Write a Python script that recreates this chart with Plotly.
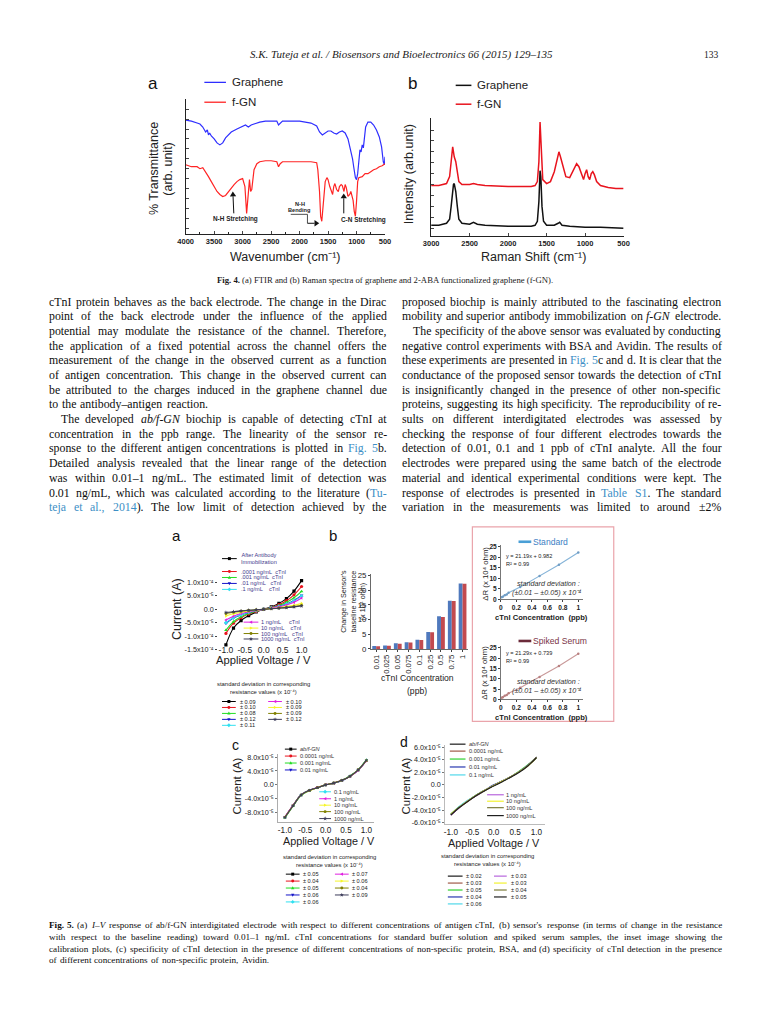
import math
import re
import plotly.graph_objects as go

W, H = 768, 1024
SANS = "Liberation Sans"
SERIF = "Liberation Serif"
LINK = "#3d8fc6"

# ================= DATA =================
# Fig. 4a  FTIR  (transmittance, arb. unit)
ftir_gr_wn = [4000, 3900, 3800, 3750, 3700, 3650, 3620, 3600, 3580, 3550, 3500, 3450, 3400, 3350, 3300,
              3200, 3100, 3000, 2950, 2900, 2850, 2800, 2700, 2600, 2500, 2400, 2370, 2340, 2300, 2200,
              2100, 2000, 1900, 1800, 1700, 1650, 1600, 1550, 1500, 1450, 1400, 1350, 1300, 1250, 1200,
              1150, 1100, 1070, 1050, 1020, 1000, 980, 960, 940, 920, 900, 880, 860, 840, 800,
              750, 700, 650, 600, 560, 530, 510, 500]
ftir_gr_t = [115, 114, 112, 111, 108, 103, 105, 100, 102, 99, 96, 92, 90, 92, 97,
             103, 106, 109, 110, 108, 110, 111, 113, 114, 114, 114, 110, 112, 114, 114,
             114, 114, 113, 112, 109, 103, 100, 102, 104, 104, 102, 101, 103, 104, 102,
             96, 85, 76, 68, 57, 55, 61, 73, 85, 83, 90, 87, 97, 108, 113,
             113, 110, 105, 98, 88, 73, 70, 78]
ftir_fgn_wn = [4000, 3900, 3800, 3750, 3700, 3650, 3600, 3550, 3500, 3450, 3400, 3350, 3300, 3250, 3200,
               3150, 3100, 3050, 3000, 2960, 2930, 2900, 2880, 2860, 2840, 2800, 2750, 2700, 2600, 2500,
               2400, 2370, 2340, 2300, 2200, 2100, 2000, 1900, 1800, 1700, 1680, 1650, 1630, 1610, 1590,
               1570, 1550, 1520, 1500, 1470, 1440, 1420, 1400, 1380, 1350, 1320, 1300, 1270, 1250, 1220,
               1200, 1180, 1150, 1120, 1100, 1080, 1060, 1040, 1020, 1000, 980, 960, 900, 850, 800,
               750, 700, 650, 600, 550, 500]
ftir_fgn_t = [70, 68, 68, 66, 67, 63, 58, 53, 48, 43, 40, 38, 39, 43, 47,
              50, 53, 55, 56, 48, 21, 43, 55, 43, 45, 65, 71, 73, 74, 74,
              73, 68, 71, 73, 73, 73, 73, 73, 73, 72, 65, 43, 18, 13, 25,
              43, 53, 57, 55, 48, 43, 40, 48, 51, 45, 43, 48, 50, 49, 43,
              50, 47, 38, 40, 43, 38, 34, 23, 18, 33, 53, 57, 58, 61, 61,
              63, 65, 66, 68, 69, 71]
ftir_ticks = [4000, 3500, 3000, 2500, 2000, 1500, 1000, 500]

# Fig. 4b  Raman  (intensity, arb. unit)
raman_gr_shift = [3000, 2900, 2800, 2760, 2740, 2720, 2710, 2700, 2680, 2660, 2640, 2600, 2500, 2450, 2400,
                  2300, 2000, 1700, 1650, 1620, 1600, 1585, 1575, 1560, 1540, 1500, 1400, 1350, 1330, 1300,
                  1200, 1000, 800, 500]
raman_gr_int = [11, 11, 13, 17, 30, 50, 52, 53, 45, 30, 17, 13, 12, 14, 12,
                11, 10, 10, 11, 15, 35, 66, 60, 30, 15, 11, 11, 13, 14, 11,
                10, 9, 9, 8]
raman_fgn_shift = [3000, 2900, 2800, 2760, 2740, 2720, 2700, 2680, 2660, 2640, 2600, 2500, 2450, 2400, 2300,
                   2000, 1700, 1650, 1620, 1600, 1585, 1570, 1550, 1500, 1450, 1400, 1360, 1340, 1320, 1280,
                   1250, 1200, 1150, 1110, 1080, 1040, 1020, 1000, 980, 960, 940, 920, 900, 880, 850,
                   800, 700, 600, 500]
raman_fgn_int = [51, 51, 53, 60, 75, 90, 80, 75, 65, 55, 52, 52, 53, 52, 51,
                 50, 50, 51, 55, 75, 115, 85, 57, 53, 55, 65, 80, 85, 80, 67,
                 60, 59, 67, 73, 70, 60, 57, 63, 67, 60, 57, 63, 65, 62, 55,
                 51, 49, 48, 48]
raman_ticks = [3000, 2500, 2000, 1500, 1000, 500]

# Fig. 5 I-V data (A)
voltage = [-1.0, -0.8, -0.6, -0.4, -0.2, 0.0, 0.2, 0.4, 0.6, 0.8, 1.0]
iv_a_after = [-13.3e-5, -7.0e-5, -4.2e-5, -2.4e-5, -1.0e-5, 0.0, 0.9e-5, 2.2e-5, 4.0e-5, 6.8e-5, 10.7e-5]
iv_a_00001 = [-9.0e-5, -5.2e-5, -3.2e-5, -1.8e-5, -0.8e-5, 0.0, 0.7e-5, 1.7e-5, 3.2e-5, 5.4e-5, 8.5e-5]
iv_a_0001 = [-7.8e-5, -4.6e-5, -2.8e-5, -1.6e-5, -0.7e-5, 0.0, 0.6e-5, 1.4e-5, 2.6e-5, 4.3e-5, 6.7e-5]
iv_a_001 = [-5.3e-5, -3.3e-5, -2.1e-5, -1.2e-5, -0.5e-5, 0.0, 0.5e-5, 1.1e-5, 2.0e-5, 3.3e-5, 5.2e-5]
iv_a_01 = [-5.0e-5, -3.1e-5, -2.0e-5, -1.1e-5, -0.5e-5, 0.0, 0.5e-5, 1.0e-5, 1.9e-5, 3.1e-5, 4.9e-5]
iv_a_1 = [-4.0e-5, -2.6e-5, -1.6e-5, -0.9e-5, -0.4e-5, 0.0, 0.4e-5, 0.9e-5, 1.6e-5, 2.6e-5, 4.2e-5]
iv_a_10 = [-2.5e-5, -1.7e-5, -1.1e-5, -0.6e-5, -0.3e-5, 0.0, 0.3e-5, 0.6e-5, 1.0e-5, 1.5e-5, 2.2e-5]
iv_a_100 = [-1.6e-5, -1.1e-5, -0.7e-5, -0.4e-5, -0.2e-5, 0.0, 0.2e-5, 0.4e-5, 0.7e-5, 1.0e-5, 1.5e-5]
iv_a_1000 = [-1.2e-5, -0.9e-5, -0.6e-5, -0.4e-5, -0.2e-5, 0.0, 0.2e-5, 0.4e-5, 0.6e-5, 0.9e-5, 1.2e-5]

iv_c_abfgn = [-9.4e-5, -6.0e-5, -2.9e-5, -1.6e-5, -0.8e-5, 0.0, 0.5e-5, 1.3e-5, 2.5e-5, 4.3e-5, 7.1e-5]
iv_c_00001 = [-9.3e-5, -5.9e-5, -2.9e-5, -1.6e-5, -0.8e-5, 0.0, 0.5e-5, 1.3e-5, 2.5e-5, 4.3e-5, 7.0e-5]
iv_c_0001 = [-9.5e-5, -6.1e-5, -3.0e-5, -1.7e-5, -0.8e-5, 0.0, 0.5e-5, 1.3e-5, 2.6e-5, 4.4e-5, 7.2e-5]
iv_c_001 = [-9.3e-5, -5.9e-5, -2.8e-5, -1.6e-5, -0.8e-5, 0.0, 0.5e-5, 1.2e-5, 2.5e-5, 4.2e-5, 7.0e-5]
iv_c_01 = [-9.4e-5, -6.0e-5, -2.9e-5, -1.6e-5, -0.8e-5, 0.0, 0.5e-5, 1.3e-5, 2.5e-5, 4.3e-5, 7.1e-5]
iv_c_1 = [-9.2e-5, -5.9e-5, -2.9e-5, -1.6e-5, -0.7e-5, 0.0, 0.5e-5, 1.3e-5, 2.4e-5, 4.2e-5, 6.9e-5]
iv_c_10 = [-9.4e-5, -6.0e-5, -2.9e-5, -1.7e-5, -0.8e-5, 0.0, 0.5e-5, 1.3e-5, 2.5e-5, 4.3e-5, 7.1e-5]
iv_c_100 = [-9.3e-5, -6.0e-5, -2.9e-5, -1.6e-5, -0.8e-5, 0.0, 0.6e-5, 1.3e-5, 2.5e-5, 4.3e-5, 7.0e-5]
iv_c_1000 = [-9.4e-5, -6.0e-5, -2.9e-5, -1.6e-5, -0.8e-5, 0.0, 0.5e-5, 1.3e-5, 2.5e-5, 4.3e-5, 7.1e-5]

iv_d_abfgn = [-4.7e-5, -3.5e-5, -2.5e-5, -1.6e-5, -0.8e-5, -0.1e-5, 0.6e-5, 1.3e-5, 2.1e-5, 3.1e-5, 4.4e-5]
iv_d_00001 = [-4.8e-5, -3.6e-5, -2.6e-5, -1.7e-5, -0.9e-5, -0.1e-5, 0.6e-5, 1.3e-5, 2.1e-5, 3.1e-5, 4.3e-5]
iv_d_0001 = [-4.6e-5, -3.5e-5, -2.5e-5, -1.6e-5, -0.8e-5, -0.1e-5, 0.6e-5, 1.3e-5, 2.2e-5, 3.2e-5, 4.4e-5]
iv_d_001 = [-4.7e-5, -3.5e-5, -2.5e-5, -1.6e-5, -0.8e-5, 0.0, 0.6e-5, 1.3e-5, 2.1e-5, 3.1e-5, 4.4e-5]
iv_d_01 = [-4.7e-5, -3.4e-5, -2.4e-5, -1.6e-5, -0.8e-5, -0.1e-5, 0.6e-5, 1.3e-5, 2.1e-5, 3.1e-5, 4.3e-5]
iv_d_1 = [-4.8e-5, -3.6e-5, -2.5e-5, -1.7e-5, -0.8e-5, -0.1e-5, 0.6e-5, 1.3e-5, 2.1e-5, 3.1e-5, 4.4e-5]
iv_d_10 = [-4.6e-5, -3.5e-5, -2.5e-5, -1.6e-5, -0.8e-5, -0.1e-5, 0.6e-5, 1.3e-5, 2.1e-5, 3.0e-5, 4.3e-5]
iv_d_100 = [-4.7e-5, -3.5e-5, -2.6e-5, -1.6e-5, -0.9e-5, -0.1e-5, 0.5e-5, 1.3e-5, 2.1e-5, 3.1e-5, 4.4e-5]
iv_d_1000 = [-4.8e-5, -3.6e-5, -2.6e-5, -1.7e-5, -0.9e-5, -0.2e-5, 0.5e-5, 1.2e-5, 2.0e-5, 3.0e-5, 4.3e-5]

# Fig. 5b sensor response (x 10^4 ohm)
conc_labels = ["0.01", "0.025", "0.05", "0.075", "0.1", "0.25", "0.5", "0.75", "1"]
conc_ppb = [0.01, 0.025, 0.05, 0.075, 0.1, 0.25, 0.5, 0.75, 1.0]
dR_standard = [1.0, 1.2, 1.9, 2.3, 3.1, 5.8, 11.1, 16.4, 22.3]
dR_serum = [0.9, 1.1, 1.8, 2.2, 3.0, 5.7, 10.9, 16.3, 22.2]

# tick labels
iv_ticks_x = ["-1.0", "-0.5", "0.0", "0.5", "1.0"]
ticks_a_y = ["-1.5x10⁻⁴", "-1.0x10⁻⁴", "-5.0x10⁻⁵", "0.0", "5.0x10⁻⁵", "1.0x10⁻⁴"]
ticks_c_y = ["-8.0x10⁻⁵", "-4.0x10⁻⁵", "0.0", "4.0x10⁻⁵", "8.0x10⁻⁵"]
ticks_d_y = ["-6.0x10⁻⁵", "-4.0x10⁻⁵", "-2.0x10⁻⁵", "0.0", "2.0x10⁻⁵", "4.0x10⁻⁵", "6.0x10⁻⁵"]
ticks_inset_x = ["0", "0.2", "0.4", "0.6", "0.8", "1"]

# legend labels / standard deviations
names_a = ["After Antibody<br>Immobilization", ".0001 ng/mL  cTnI", ".001 ng/mL  cTnI", ".01 ng/mL   cTnI",
           ".1 ng/mL    cTnI", "1 ng/mL     cTnI", "10 ng/mL    cTnI", "100 ng/mL   cTnI", "1000 ng/mL  cTnI"]
names_cd = ["<i>ab/f-GN</i>", "0.0001 ng/mL", "0.001 ng/mL", "0.01 ng/mL", "0.1 ng/mL",
            "1 ng/mL", "10 ng/mL", "100 ng/mL", "1000 ng/mL"]
sd_a = ["± 0.09", "± 0.10", "± 0.08", "± 0.12", "± 0.11", "± 0.10", "± 0.09", "± 0.09", "± 0.12"]
sd_c = ["± 0.05", "± 0.04", "± 0.05", "± 0.06", "± 0.06", "± 0.07", "± 0.06", "± 0.04", "± 0.09"]
sd_d = ["± 0.02", "± 0.03", "± 0.05", "± 0.04", "± 0.06", "± 0.03", "± 0.03", "± 0.04", "± 0.05"]

# body text
LEFT_LINES = [
    "cTnI protein behaves as the back electrode. The change in the Dirac",
    "point of the back electrode under the influence of the applied",
    "potential may modulate the resistance of the channel. Therefore,",
    "the application of a fixed potential across the channel offers the",
    "measurement of the change in the observed current as a function",
    "of antigen concentration. This change in the observed current can",
    "be attributed to the charges induced in the graphene channel due",
    "to the antibody–antigen reaction.$",
    "\tThe developed *ab/f-GN* biochip is capable of detecting cTnI at",
    "concentration in the ppb range. The linearity of the sensor re-",
    "sponse to the different antigen concentrations is plotted in #Fig.# #5#b.",
    "Detailed analysis revealed that the linear range of the detection",
    "was within 0.01–1 ng/mL. The estimated limit of detection was",
    "0.01 ng/mL, which was calculated according to the literature (#Tu-#",
    "#teja# #et# #al.,# #2014#). The low limit of detection achieved by the",
]
RIGHT_LINES = [
    "proposed biochip is mainly attributed to the fascinating electron",
    "mobility and superior antibody immobilization on *f-GN* electrode.$",
    "\tThe specificity of the above sensor was evaluated by conducting",
    "negative control experiments with BSA and Avidin. The results of",
    "these experiments are presented in #Fig.# #5#c and d. It is clear that the",
    "conductance of the proposed sensor towards the detection of cTnI",
    "is insignificantly changed in the presence of other non-specific",
    "proteins, suggesting its high specificity. The reproducibility of re-",
    "sults on different interdigitated electrodes was assessed by",
    "checking the response of four different electrodes towards the",
    "detection of 0.01, 0.1 and 1 ppb of cTnI analyte. All the four",
    "electrodes were prepared using the same batch of the electrode",
    "material and identical experimental conditions were kept. The",
    "response of electrodes is presented in #Table# #S1#. The standard",
    "variation in the measurements was limited to around ±2%",
]
CAPTION5 = [
    "!Fig.! !5.! (a) *I–V* response of ab/f-GN interdigitated electrode with respect to different concentrations of antigen cTnI, (b) sensor's response (in terms of change in the resistance",
    "with respect to the baseline reading) toward 0.01–1 ng/mL cTnI concentrations for standard buffer solution and spiked serum samples, the inset image showing the",
    "calibration plots, (c) specificity of cTnI detection in the presence of different concentrations of non-specific protein, BSA, and (d) specificity of cTnI detection in the presence",
    "of different concentrations of non-specific protein, Avidin.$",
]
HEADER = "S.K. Tuteja et al. / Biosensors and Bioelectronics 66 (2015) 129–135"
CAPTION4 = "(a) FTIR and (b) Raman spectra of graphene and 2-ABA functionalized graphene (f-GN)."

# ================= HELPERS =================
ann = []
shapes = []


def X(x):
    return x / W


def Y(y):
    return 1 - y / H


def text(x, y, s, size, color="#111", family=SANS, xa="center", ya="middle", angle=0):
    ann.append(dict(x=X(x), y=Y(y), xref="paper", yref="paper", text=s, showarrow=False,
                    xanchor=xa, yanchor=ya, textangle=angle, borderpad=0, borderwidth=0,
                    font=dict(family=family, size=size, color=color)))


def seg(x0, y0, x1, y1, color, width=1.0):
    shapes.append(dict(type="line", xref="paper", yref="paper", x0=X(x0), y0=Y(y0), x1=X(x1), y1=Y(y1),
                       line=dict(color=color, width=width)))


def poly(pts, color):
    path = "M " + " L ".join(f"{X(px):.5f},{Y(py):.5f}" for px, py in pts) + " Z"
    shapes.append(dict(type="path", xref="paper", yref="paper", path=path, fillcolor=color,
                       line=dict(width=0)))


def arrow(x0, y0, x1, y1, color="#111", head=3.2):
    dx, dy = x1 - x0, y1 - y0
    n = math.hypot(dx, dy)
    ux, uy = dx / n, dy / n
    bx, by = x1 - ux * head * 1.5, y1 - uy * head * 1.5
    seg(x0, y0, bx, by, color, 1.0)
    poly([(x1, y1), (bx - uy * head, by + ux * head), (bx + uy * head, by - ux * head)], color)


def glyph(cx, cy, sym, s, color):
    if sym == "circle" or sym == "hexagon":
        shapes.append(dict(type="circle", xref="paper", yref="paper", x0=X(cx - s), x1=X(cx + s),
                           y0=Y(cy + s), y1=Y(cy - s), fillcolor=color, line=dict(width=0)))
        return
    if sym == "square":
        pts = [(-s, -s), (s, -s), (s, s), (-s, s)]
    elif sym == "triangle-up":
        pts = [(0, -1.2 * s), (1.1 * s, 0.8 * s), (-1.1 * s, 0.8 * s)]
    elif sym == "triangle-down":
        pts = [(0, 1.2 * s), (1.1 * s, -0.8 * s), (-1.1 * s, -0.8 * s)]
    elif sym == "diamond":
        pts = [(0, -1.3 * s), (1.3 * s, 0), (0, 1.3 * s), (-1.3 * s, 0)]
    elif sym == "triangle-left":
        pts = [(-1.2 * s, 0), (0.8 * s, -1.1 * s), (0.8 * s, 1.1 * s)]
    elif sym == "triangle-right":
        pts = [(1.2 * s, 0), (-0.8 * s, -1.1 * s), (-0.8 * s, 1.1 * s)]
    else:  # star
        pts = []
        for k in range(10):
            r = 1.5 * s if k % 2 == 0 else 0.6 * s
            a = -math.pi / 2 + k * math.pi / 5
            pts.append((r * math.cos(a), r * math.sin(a)))
    poly([(cx + dx, cy + dy) for dx, dy in pts], color)


def legend_item(x0, x1, y, color, sym=None, lw=1.0, ms=1.5):
    seg(x0, y, x1, y, color, lw)
    if sym:
        glyph((x0 + x1) / 2, y, sym, ms, color)


TW = {' ': 250, '!': 333, '%': 833, "'": 333, '(': 333, ')': 333, '+': 564, ',': 250, '-': 333,
      '.': 250, '/': 278, ':': 278, ';': 278, '=': 564, '–': 500, '±': 564}
for _c in "0123456789":
    TW[_c] = 500
TW.update(dict(A=722, B=667, C=667, D=722, E=611, F=556, G=722, H=722, I=333, J=389, K=722, L=611,
               M=889, N=722, O=722, P=556, Q=722, R=667, S=556, T=611, U=722, V=722, W=944, X=722,
               Y=722, Z=611))
TW.update(dict(a=444, b=500, c=444, d=500, e=444, f=333, g=500, h=500, i=278, j=278, k=500, l=278,
               m=778, n=500, o=500, p=500, q=500, r=333, s=389, t=278, u=500, v=500, w=722, x=500,
               y=500, z=444))
EMF = 1.035  # rendering slack (hinting) on top of the Times metrics


def plain(w):
    return re.sub(r"[*#!]", "", w)


def em(s):
    return EMF * sum(TW.get(ch, 500) for ch in s) / 1000.0


def markup(w):
    w = re.sub(r"#(.+?)#", r'<span style="color:' + LINK + r'">\1</span>', w)
    w = re.sub(r"\*(.+?)\*", r"<i>\1</i>", w)
    w = re.sub(r"!(.+?)!", r"<b>\1</b>", w)
    return w


def fit_size(line, width, min_gap=0.24, indent=12):
    words = line.strip("\t$").split(" ")
    avail = width - (indent if line.startswith("\t") else 0)
    return avail / (sum(em(plain(w)) for w in words) + min_gap * (len(words) - 1))


def block(lines, x0, x1, y0, dy, size, color="#0d0d0d", indent=12):
    for k, raw in enumerate(lines):
        just = not raw.endswith("$")
        ind = indent if raw.startswith("\t") else 0
        words = raw.strip("\t$").split(" ")
        widths = [em(plain(w)) * size for w in words]
        left = x0 + ind
        if just and len(words) > 1:
            gap = (x1 - left - sum(widths)) / (len(words) - 1)
        else:
            gap = 0.28 * size
        x = left
        y = y0 + k * dy
        for w, wd in zip(words, widths):
            text(x, y, markup(w), size, color=color, family=SERIF, xa="left")
            x += wd + gap


# ================= FIGURE =================
fig = go.Figure()

# ---- Fig. 4a FTIR ----
fig.add_trace(go.Scatter(x=ftir_gr_wn, y=ftir_gr_t, mode="lines", line=dict(color="#2e2eff", width=1.2),
                         xaxis="x", yaxis="y"))
fig.add_trace(go.Scatter(x=ftir_fgn_wn, y=ftir_fgn_t, mode="lines", line=dict(color="#ff2424", width=1.2),
                         xaxis="x", yaxis="y"))
# ---- Fig. 4b Raman ----
fig.add_trace(go.Scatter(x=raman_gr_shift, y=raman_gr_int, mode="lines", line=dict(color="#111111", width=1.5),
                         xaxis="x2", yaxis="y2"))
fig.add_trace(go.Scatter(x=raman_fgn_shift, y=raman_fgn_int, mode="lines", line=dict(color="#e8141e", width=1.5),
                         xaxis="x2", yaxis="y2"))

colors_a = ["#000000", "#e8141e", "#22dd22", "#1414c8", "#30e0f0", "#e020e0", "#f5f52a", "#808000", "#3c3c5a"]
colors_d = ["#1a1a1a", "#a05a48", "#30d030", "#2838b0", "#50d8ea", "#b866dd", "#f2f230", "#7c7c3c", "#202020"]
symbols = ["square", "circle", "triangle-up", "triangle-down", "diamond", "triangle-left",
           "triangle-right", "hexagon", "star"]

series_a = [iv_a_after, iv_a_00001, iv_a_0001, iv_a_001, iv_a_01, iv_a_1, iv_a_10, iv_a_100, iv_a_1000]
series_c = [iv_c_abfgn, iv_c_00001, iv_c_0001, iv_c_001, iv_c_01, iv_c_1, iv_c_10, iv_c_100, iv_c_1000]
series_d = [iv_d_abfgn, iv_d_00001, iv_d_0001, iv_d_001, iv_d_01, iv_d_1, iv_d_10, iv_d_100, iv_d_1000]

for s, c, m in zip(series_a, colors_a, symbols):
    fig.add_trace(go.Scatter(x=voltage, y=s, mode="lines+markers", line=dict(color=c, width=1.1, shape="spline"),
                             marker=dict(symbol=m, size=3.2, color=c), xaxis="x3", yaxis="y3"))
for s, c, m in zip(series_c, colors_a, symbols):
    fig.add_trace(go.Scatter(x=voltage, y=s, mode="lines+markers", line=dict(color=c, width=1.1, shape="spline"),
                             marker=dict(symbol=m, size=2.6, color=c), xaxis="x7", yaxis="y7"))
for s, c in zip(series_d, colors_d):
    fig.add_trace(go.Scatter(x=voltage, y=s, mode="lines", line=dict(color=c, width=1.1, shape="spline"),
                             xaxis="x8", yaxis="y8"))

# ---- Fig. 5b bars ----
fig.add_trace(go.Bar(x=conc_labels, y=dR_standard, marker=dict(color="#4f79bd", line=dict(width=0)),
                     xaxis="x4", yaxis="y4"))
fig.add_trace(go.Bar(x=conc_labels, y=dR_serum, marker=dict(color="#c24a4f", line=dict(width=0)),
                     xaxis="x4", yaxis="y4"))
# ---- insets ----
fig.add_trace(go.Scatter(x=conc_ppb, y=dR_standard, mode="lines+markers", line=dict(color="#86b4d8", width=1.1),
                         marker=dict(size=2.5, color="#6f9cc4"), xaxis="x5", yaxis="y5"))
fig.add_trace(go.Scatter(x=conc_ppb, y=dR_serum, mode="lines+markers", line=dict(color="#c99a9a", width=1.1),
                         marker=dict(size=2.5, color="#b88080"), xaxis="x6", yaxis="y6"))


# ================= AXES =================
def ax(**kw):
    base = dict(showgrid=False, zeroline=False, showline=False, ticks="", fixedrange=True)
    base.update(kw)
    return base


tick4 = dict(family=SANS, size=7.5, color="#222", weight="bold")
tick5 = dict(family=SANS, size=7.2, color="#222")
tick_in = dict(family=SANS, size=6.6, color="#222", weight="bold")

layout_axes = dict(
    xaxis=ax(domain=[X(181), X(384)], range=[4000, 500], anchor="y", showline=True, linecolor="#222",
             linewidth=1.1, ticks="inside", ticklen=3, tickvals=ftir_ticks, tickfont=tick4,
             minor=dict(ticks="inside", ticklen=2, dtick=250, tick0=0, tickcolor="#222")),
    yaxis=ax(domain=[Y(233), Y(97)], range=[0, 136], anchor="x", showline=True, linecolor="#222",
             linewidth=1.1, ticks="inside", ticklen=3, dtick=10, tick0=6, showticklabels=False),
    xaxis2=ax(domain=[X(431), X(627)], range=[3000, 500], anchor="y2", showline=True, linecolor="#222",
              linewidth=1.1, ticks="inside", ticklen=3, tickvals=raman_ticks, tickfont=tick4),
    yaxis2=ax(domain=[Y(235), Y(116)], range=[0, 119], anchor="x2", showline=True, linecolor="#222",
              linewidth=1.1, ticks="inside", ticklen=3, dtick=11, tick0=8, showticklabels=False),
    xaxis3=ax(domain=[X(216.2), X(304.8)], range=[-1.15, 1.15], anchor="free", position=Y(646),
              tickvals=[-1, -0.5, 0, 0.5, 1], ticktext=iv_ticks_x,
              tickfont=dict(family=SANS, size=8.5, color="#222")),
    yaxis3=ax(domain=[Y(652.9), Y(571.9)], range=[-1.55e-4, 1.45e-4], anchor="free", position=X(213),
              ticks="outside", ticklen=2, tickcolor="#444",
              tickvals=[-1.5e-4, -1e-4, -5e-5, 0, 5e-5, 1e-4], ticktext=ticks_a_y, tickfont=tick5),
    xaxis4=ax(domain=[X(369.5), X(468.5)], type="category", anchor="y4", showline=True, linecolor="#444",
              linewidth=0.8, ticks="outside", ticklen=2, tickangle=-90,
              tickfont=dict(family=SANS, size=7.6, color="#222")),
    yaxis4=ax(domain=[Y(651), Y(575)], range=[0, 25.7], anchor="x4", showline=True, linecolor="#444",
              linewidth=0.8, ticks="outside", ticklen=2, tickvals=[0, 5, 10, 15, 20, 25],
              tickfont=dict(family=SANS, size=7.8, color="#222")),
    xaxis5=ax(domain=[X(502), X(586)], range=[0, 1.065], anchor="y5", showline=True, linecolor="#555",
              linewidth=0.8, ticks="outside", ticklen=2, tickvals=[0, 0.2, 0.4, 0.6, 0.8, 1.0],
              ticktext=ticks_inset_x, tickfont=tick_in),
    yaxis5=ax(domain=[Y(601), Y(545.9)], range=[0, 26], anchor="x5", showline=True, linecolor="#555",
              linewidth=0.8, ticks="outside", ticklen=2, tickvals=[0, 5, 10, 15, 20, 25], tickfont=tick_in),
    xaxis6=ax(domain=[X(502), X(586)], range=[0, 1.065], anchor="y6", showline=True, linecolor="#555",
              linewidth=0.8, ticks="outside", ticklen=2, tickvals=[0, 0.2, 0.4, 0.6, 0.8, 1.0],
              ticktext=ticks_inset_x, tickfont=tick_in),
    yaxis6=ax(domain=[Y(702), Y(648)], range=[0, 26], anchor="x6", showline=True, linecolor="#555",
              linewidth=0.8, ticks="outside", ticklen=2, tickvals=[0, 5, 10, 15, 20, 25], tickfont=tick_in),
    xaxis7=ax(domain=[X(275), X(373.3)], range=[-1.17, 1.2], anchor="y7", showline=True, linecolor="#999",
              linewidth=0.8, tickvals=[-1, -0.5, 0, 0.5, 1], ticktext=iv_ticks_x,
              tickfont=dict(family=SANS, size=8.2, color="#222")),
    yaxis7=ax(domain=[Y(825.5), Y(756.5)], range=[-1.07e-4, 0.9e-4], anchor="x7", showline=True,
              linecolor="#999", linewidth=0.8, ticks="outside", ticklen=2, tickcolor="#777",
              tickvals=[-8e-5, -4e-5, 0, 4e-5, 8e-5], ticktext=ticks_c_y, tickfont=tick5),
    xaxis8=ax(domain=[X(445), X(547)], range=[-1.14, 1.2], anchor="y8", showline=True, linecolor="#aaa",
              linewidth=0.8, tickvals=[-1, -0.5, 0, 0.5, 1], ticktext=iv_ticks_x,
              tickfont=dict(family=SANS, size=8.2, color="#222")),
    yaxis8=ax(domain=[Y(827.4), Y(748)], range=[-6.2e-5, 6.3e-5], anchor="x8", showline=True,
              linecolor="#aaa", linewidth=0.8, ticks="outside", ticklen=2, tickcolor="#777",
              tickvals=[-6e-5, -4e-5, -2e-5, 0, 2e-5, 4e-5, 6e-5], ticktext=ticks_d_y, tickfont=tick5),
)

# ================= TEXT & DECORATION =================
SMALL = 5.6
# header (italic Times runs ~5% narrower than roman)
hsize = 307 / (0.95 * em(HEADER))
text(401, 52, "<i>" + HEADER + "</i>", min(hsize, 11), family=SERIF, color="#222")
text(724, 52, "133", 9.5, family=SERIF, color="#222", xa="right")

# Fig 4a
text(148, 81, "a", 17)
legend_item(200, 222, 80, "#2e2eff", lw=1.3)
text(228, 80, "Graphene", 11.5, xa="left", color="#222")
legend_item(200, 222, 100, "#ff2424", lw=1.3)
text(228, 100, "f-GN", 11.5, xa="left", color="#222")
text(148, 167, "% Transmittance", 12.5, angle=-90, color="#222")
text(163, 167, "(arb. unit)", 12.5, angle=-90, color="#222")
text(283, 256, "Wavenumber (cm⁻¹)", 12.5, color="#222")
text(232, 218, "<b>N-H Stretching</b>", 6.4, color="#222")
arrow(230, 212, 229, 190)
text(297, 203, "<b>N-H</b>", SMALL, color="#222")
text(297, 208.5, "<b>Bending</b>", SMALL, color="#222")
seg(288, 213, 305, 213, "#222", 0.8)
seg(305, 213, 305, 222, "#222", 0.8)
arrow(305, 222, 317, 222)
text(362, 219, "<b>C-N Stretching</b>", 6.4, color="#222")
arrow(342, 212, 342, 192)

# Fig 4b
text(412, 81, "b", 17)
legend_item(456, 472, 83, "#111111", lw=1.5)
text(478, 83, "Graphene", 11.5, xa="left", color="#222")
legend_item(456, 472, 102, "#e8141e", lw=1.5)
text(478, 102, "f-GN", 11.5, xa="left", color="#222")
text(408, 173, "Intensity (arb.unit)", 12.5, angle=-90, color="#222")
text(535, 256, "Raman Shift (cm⁻¹)", 12.5, color="#222")

# Fig 4 caption
c4size = 338 / (em("Fig. 4. ") + em(CAPTION4))
text(384, 279, "<b>Fig. 4.</b> " + CAPTION4, min(c4size * 1.03, 9.8), family=SERIF, color="#1a1a1a")

# body text (justified columns)
bsize = min(12.6,
            min(fit_size(l, 344) for l in LEFT_LINES if not l.endswith("$")),
            min(fit_size(l, 326) for l in RIGHT_LINES if not l.endswith("$")))
block(LEFT_LINES, 42, 386, 301, 14.8, bsize)
block(RIGHT_LINES, 401, 727, 301, 14.8, bsize)

# Fig 5 panel labels
text(172, 537, "a", 15)
text(331, 537, "b", 15)
text(232, 748, "c", 14)
text(403, 745, "d", 14)

# panel a
LEGC = "#3f3a8c"
NB = "\u00a0"
legend_item(218, 233, 560, colors_a[0], symbols[0])
text(237, 559.5, names_a[0], SMALL, xa="left", color=LEGC)
for k, yy in zip(range(1, 5), [573, 579, 585, 591]):
    legend_item(218, 233, yy, colors_a[k], symbols[k])
    text(237, yy, names_a[k].replace(" ", NB), SMALL, xa="left", color=LEGC)
for k, yy in zip(range(5, 9), [624, 630, 635.5, 641]):
    legend_item(240, 255, yy, colors_a[k], symbols[k])
    text(258, yy, names_a[k].replace(" ", NB), SMALL, xa="left", color=LEGC)
text(172, 611, "Current (A)", 12.5, angle=-90, color="#222")
text(260, 662, "Applied Voltage / V", 11.2, color="#222")
text(260, 686, "standard deviation in corresponding", 5.9, color="#222")
text(260, 694, "resistance values (x 10⁻⁴)", 5.9, color="#222")
rows_a = [704, 710, 716, 722, 728]
for k in range(5):
    legend_item(218, 232, rows_a[k], colors_a[k], symbols[k])
    text(236, rows_a[k], sd_a[k], SMALL, xa="left", color="#222")
for k in range(5, 9):
    legend_item(265, 279, rows_a[k - 5], colors_a[k], symbols[k])
    text(283, rows_a[k - 5], sd_a[k], SMALL, xa="left", color="#222")

# panel b
text(352, 603, "Change in Sensor's<br>baseline resistance<br>(x 10⁴ ohm)", 7.2, angle=-90, color="#222")
text(417, 680, "cTnI Concentration", 8.6, color="#222")
text(417, 693, "(ppb)", 8.6, color="#222")
shapes.append(dict(type="rect", xref="paper", yref="paper", x0=X(473), x1=X(617), y0=Y(724), y1=Y(528),
                   line=dict(color="#eaa4ab", width=1.2), fillcolor="rgba(0,0,0,0)"))
# inset 1
seg(520, 543, 533, 543, "#4a9fd6", 2.6)
text(535, 543, "Standard", 8.6, xa="left", color="#3d80c4")
text(507, 557, "y = 21.19x + 0.982", SMALL, xa="left", color="#222")
text(507, 565, "R² = 0.99", SMALL, xa="left", color="#222")
text(583, 585, "<i>standard deviation :</i>", 7.2, xa="right", color="#333")
text(584, 594, "<i>(±0.01 – ±0.05) x 10⁻⁴</i>", 7.2, xa="right", color="#333")
text(486, 575, "ΔR (x 10⁴ ohm)", 7.8, angle=-90, color="#222")
text(543, 619, "<b>cTnI Concentration" + NB + NB + "(ppb)</b>", 7.6, color="#222")
# inset 2
seg(520, 643, 533, 643, "#6b2a3a", 2.6)
text(535, 643, "Spiked Serum", 8.6, xa="left", color="#7a3446")
text(507, 655, "y = 21.29x + 0.739", SMALL, xa="left", color="#222")
text(507, 663, "R² = 0.99", SMALL, xa="left", color="#222")
text(583, 684, "<i>standard deviation :</i>", 7.2, xa="right", color="#333")
text(584, 693, "<i>(±0.01 – ±0.05) x 10⁻⁴</i>", 7.2, xa="right", color="#333")
text(486, 675, "ΔR (x 10⁴ ohm)", 7.8, angle=-90, color="#222")
text(543, 720, "<b>cTnI Concentration" + NB + NB + "(ppb)</b>", 7.6, color="#222")

# panel c
rows_c_top = [752, 759, 766, 773]
rows_c_bot = [795, 802, 808.5, 815, 822]
for k in range(4):
    legend_item(282, 294, rows_c_top[k], colors_a[k], symbols[k])
    text(297, rows_c_top[k], names_cd[k], SMALL, xa="left", color="#333")
for k in range(4, 9):
    legend_item(317, 329, rows_c_bot[k - 4], colors_a[k], symbols[k])
    text(332, rows_c_bot[k - 4], names_cd[k], SMALL, xa="left", color="#333")
text(233, 789, "Current (A)", 11.5, angle=-90, color="#222")
text(327, 845, "Applied Voltage / V", 10.8, color="#222")
text(327, 861, "standard deviation in corresponding", 5.9, color="#222")
text(327, 869, "resistance values (x 10⁻⁴)", 5.9, color="#222")
rows_c = [878, 885, 892, 899, 906]
for k in range(5):
    legend_item(283, 297, rows_c[k], colors_a[k], symbols[k])
    text(300, rows_c[k], sd_c[k], SMALL, xa="left", color="#222")
for k in range(5, 9):
    legend_item(333, 347, rows_c[k - 5], colors_a[k], symbols[k])
    text(350, rows_c[k - 5], sd_c[k], SMALL, xa="left", color="#222")

# panel d
rows_d_top = [747, 754, 762, 770, 778]
rows_d_bot = [798, 804.5, 811, 819]
for k in range(5):
    legend_item(450, 466, rows_d_top[k], colors_d[k], lw=1.2)
    text(470, rows_d_top[k], names_cd[k], SMALL, xa="left", color="#333")
for k in range(5, 9):
    legend_item(488, 505, rows_d_bot[k - 5], colors_d[k], lw=1.2)
    text(507, rows_d_bot[k - 5], names_cd[k], SMALL, xa="left", color="#333")
text(405, 789, "Current (A)", 11.5, angle=-90, color="#222")
text(495, 847, "Applied Voltage / V", 10.8, color="#222")
text(488, 860, "standard deviation in corresponding", 5.9, color="#222")
text(488, 868, "resistance values (x 10⁻⁴)", 5.9, color="#222")
rows_d = [880, 887, 894, 901, 908]
for k in range(5):
    legend_item(448, 463, rows_d[k], colors_d[k], lw=1.2)
    text(467, rows_d[k], sd_d[k], SMALL, xa="left", color="#222")
for k in range(5, 9):
    legend_item(495, 508, rows_d[k - 5], colors_d[k], lw=1.2)
    text(512, rows_d[k - 5], sd_d[k], SMALL, xa="left", color="#222")

# Fig 5 caption
csize = min(9.2, min(fit_size(l, 686, indent=0) for l in CAPTION5 if not l.endswith("$")))
block(CAPTION5, 42, 728, 929, 12.0, csize, indent=0)

fig.update_layout(
    width=W, height=H, margin=dict(l=0, r=0, t=0, b=0),
    paper_bgcolor="white", plot_bgcolor="rgba(0,0,0,0)",
    showlegend=False, barmode="group", bargap=0.28, bargroupgap=0.0,
    annotations=ann, shapes=shapes, **layout_axes,
)
fig.write_html("out.html", config={"displayModeBar": False, "staticPlot": True},
               post_script="document.body.style.margin='0px';document.body.style.overflow='hidden';")
